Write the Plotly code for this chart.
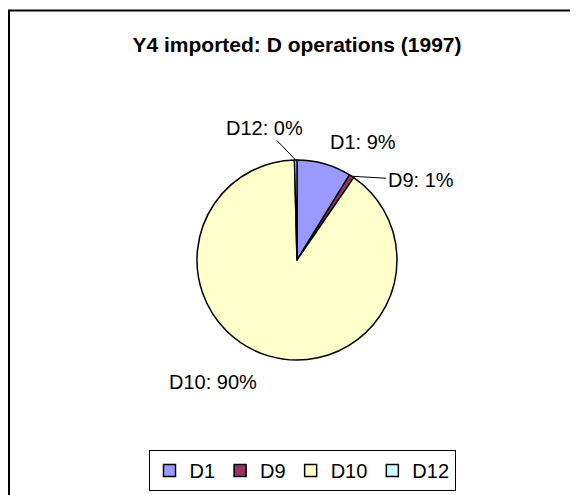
import math
import plotly.graph_objects as go

labels = ["D1", "D9", "D10", "D12"]
values = [8.8, 0.8, 90.0, 0.4]
colors = ["#9999FF", "#993366", "#FFFFCC", "#CCFFFF"]
title_text = "Y4 imported: D operations (1997)"

W, H = 578, 495
cx, cy, r = 289, 252, 100
FONT = "Liberation Sans, Arial"

# label placement style (pixel offsets from slice edge midpoint): (dx, dy, leader)
label_style = {
    "D1": (39, -35, False),
    "D9": (69, 4, True),
    "D10": (-55, 39, False),
    "D12": (-31, -32, True),
}

fig = go.Figure(go.Pie(
    labels=labels,
    values=values,
    sort=False,
    direction="clockwise",
    rotation=0,
    marker=dict(colors=colors, line=dict(color="black", width=1.5)),
    textinfo="none",
    domain=dict(x=[(cx - r) / W, (cx + r) / W], y=[(H - cy - r) / H, (H - cy + r) / H]),
    showlegend=True,
    hoverinfo="label+percent",
))

total = sum(values)
annotations = []
cum = 0.0
for lab, v in zip(labels, values):
    mid = (cum + v / 2) / total * 2 * math.pi
    cum += v
    ex = cx + r * math.sin(mid)
    ey = cy - r * math.cos(mid)
    pct = round(v / total * 100)
    dx, dy, leader = label_style[lab]
    ann = dict(x=ex / W, y=1 - ey / H, xref="paper", yref="paper",
               text=f"{lab}: {pct}%",
               font=dict(family=FONT, size=20, color="black"))
    if leader:
        ann.update(showarrow=True, arrowhead=0, arrowwidth=1, arrowcolor="black",
                   ax=dx, ay=dy, standoff=0)
    else:
        ann.update(showarrow=False, xshift=dx, yshift=-dy)
    annotations.append(ann)

fig.update_layout(
    width=W, height=H,
    margin=dict(l=0, r=0, t=0, b=0),
    paper_bgcolor="white",
    plot_bgcolor="white",
    title=dict(text="<b>" + title_text + "</b>", x=cx / W, xanchor="center",
               y=1 - 37 / H, yanchor="middle",
               font=dict(family=FONT, size=21, color="black")),
    legend=dict(orientation="h", x=294 / W, xanchor="center", y=1 - 442 / H, yanchor="top",
                bordercolor="black", borderwidth=1, itemwidth=30,
                font=dict(family=FONT, size=20, color="black")),
    annotations=annotations,
    shapes=[dict(type="rect", xref="paper", yref="paper",
                 x0=1 / W, x1=1.02, y0=-0.02, y1=1 - 2.5 / H,
                 line=dict(color="black", width=2))],
)

fig.write_html("out.html")
